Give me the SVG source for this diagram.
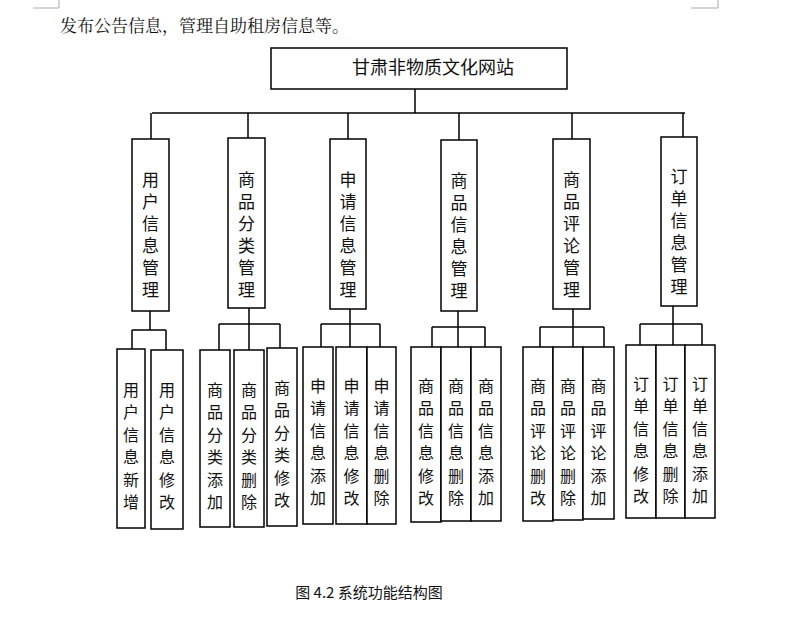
<svg xmlns="http://www.w3.org/2000/svg" width="788" height="635" viewBox="0 0 788 635">
<style>
rect{fill:#fff;stroke:#000;stroke-width:1.5}
line,path{stroke:#000;stroke-width:1.5;fill:none}
text{font-family:"Noto Sans CJK SC","Liberation Serif",serif;fill:#111;text-anchor:middle}
.m{font-size:17px}
.c{font-size:16px}
.mark{stroke:#aaa;stroke-width:1}
</style>
<rect width="788" height="635" style="fill:#fff;stroke:none"/>
<path class="mark" d="M33 8H59V0M691 8H718V0" style="stroke:#aaa;stroke-width:1"/>
<text x="60" y="32" style="font-size:17px;text-anchor:start;font-family:'Noto Serif CJK SC','Noto Sans CJK SC',serif">发布公告信息，管理自助租房信息等。</text>
<g id="connectors">
<path d="M415 89V113M152 113H685M151 113V139M248 113V138M348 113V139M459 113V140M572 113V139M683 113V137"/>
<path d="M150 311V330M132 330H166M132 330V349M166 330V350"/>
<path d="M249 308V350M219 324H280M219 324V350M280 324V348"/>
<path d="M350 309V347M321 324H380M321 324V347M380 324V347"/>
<path d="M458 311V347M432 327H485M432 327V347M485 327V347"/>
<path d="M573 309V347M540 327H604M540 327V347M604 327V347"/>
<path d="M673 306V345M640 324H702M640 324V345M702 324V345"/>
</g>
<g id="root"><rect x="271" y="48" width="296" height="41"/><text x="433" y="74" style="font-size:18px">甘肃非物质文化网站</text></g>
<g id="m1"><rect x="132" y="139" width="37" height="172"/><text class="m" x="150.5" y="186"><tspan x="150.5">用</tspan><tspan x="150.5" dy="22">户</tspan><tspan x="150.5" dy="22">信</tspan><tspan x="150.5" dy="22">息</tspan><tspan x="150.5" dy="22">管</tspan><tspan x="150.5" dy="22">理</tspan></text></g>
<g id="m2"><rect x="228" y="138" width="37" height="170"/><text class="m" x="246.5" y="186"><tspan x="246.5">商</tspan><tspan x="246.5" dy="22">品</tspan><tspan x="246.5" dy="22">分</tspan><tspan x="246.5" dy="22">类</tspan><tspan x="246.5" dy="22">管</tspan><tspan x="246.5" dy="22">理</tspan></text></g>
<g id="m3"><rect x="330" y="139" width="36" height="170"/><text class="m" x="348" y="186"><tspan x="348">申</tspan><tspan x="348" dy="22">请</tspan><tspan x="348" dy="22">信</tspan><tspan x="348" dy="22">息</tspan><tspan x="348" dy="22">管</tspan><tspan x="348" dy="22">理</tspan></text></g>
<g id="m4"><rect x="441" y="140" width="36" height="171"/><text class="m" x="459" y="187"><tspan x="459">商</tspan><tspan x="459" dy="22">品</tspan><tspan x="459" dy="22">信</tspan><tspan x="459" dy="22">息</tspan><tspan x="459" dy="22">管</tspan><tspan x="459" dy="22">理</tspan></text></g>
<g id="m5"><rect x="553" y="139" width="37" height="170"/><text class="m" x="571.5" y="186"><tspan x="571.5">商</tspan><tspan x="571.5" dy="22">品</tspan><tspan x="571.5" dy="22">评</tspan><tspan x="571.5" dy="22">论</tspan><tspan x="571.5" dy="22">管</tspan><tspan x="571.5" dy="22">理</tspan></text></g>
<g id="m6"><rect x="661" y="137" width="36" height="169"/><text class="m" x="679" y="183"><tspan x="679">订</tspan><tspan x="679" dy="22">单</tspan><tspan x="679" dy="22">信</tspan><tspan x="679" dy="22">息</tspan><tspan x="679" dy="22">管</tspan><tspan x="679" dy="22">理</tspan></text></g>
<g id="c1a"><rect x="117" y="349" width="28" height="179"/><text class="c" x="131" y="396"><tspan x="131">用</tspan><tspan x="131" dy="22.4">户</tspan><tspan x="131" dy="22.4">信</tspan><tspan x="131" dy="22.4">息</tspan><tspan x="131" dy="22.4">新</tspan><tspan x="131" dy="22.4">增</tspan></text></g>
<g id="c1b"><rect x="151" y="350" width="32" height="179"/><text class="c" x="167" y="396"><tspan x="167">用</tspan><tspan x="167" dy="22.4">户</tspan><tspan x="167" dy="22.4">信</tspan><tspan x="167" dy="22.4">息</tspan><tspan x="167" dy="22.4">修</tspan><tspan x="167" dy="22.4">改</tspan></text></g>
<g id="c2a"><rect x="200" y="350" width="30" height="177"/><text class="c" x="215" y="396"><tspan x="215">商</tspan><tspan x="215" dy="22.4">品</tspan><tspan x="215" dy="22.4">分</tspan><tspan x="215" dy="22.4">类</tspan><tspan x="215" dy="22.4">添</tspan><tspan x="215" dy="22.4">加</tspan></text></g>
<g id="c2b"><rect x="234" y="350" width="30" height="177"/><text class="c" x="249" y="396"><tspan x="249">商</tspan><tspan x="249" dy="22.4">品</tspan><tspan x="249" dy="22.4">分</tspan><tspan x="249" dy="22.4">类</tspan><tspan x="249" dy="22.4">删</tspan><tspan x="249" dy="22.4">除</tspan></text></g>
<g id="c2c"><rect x="267" y="348" width="30" height="178"/><text class="c" x="282" y="394"><tspan x="282">商</tspan><tspan x="282" dy="22.4">品</tspan><tspan x="282" dy="22.4">分</tspan><tspan x="282" dy="22.4">类</tspan><tspan x="282" dy="22.4">修</tspan><tspan x="282" dy="22.4">改</tspan></text></g>
<g id="c3a"><rect x="303" y="347" width="30" height="177"/><text class="c" x="318" y="392"><tspan x="318">申</tspan><tspan x="318" dy="22.4">请</tspan><tspan x="318" dy="22.4">信</tspan><tspan x="318" dy="22.4">息</tspan><tspan x="318" dy="22.4">添</tspan><tspan x="318" dy="22.4">加</tspan></text></g>
<g id="c3b"><rect x="336" y="347" width="31" height="177"/><text class="c" x="351.5" y="392"><tspan x="351.5">申</tspan><tspan x="351.5" dy="22.4">请</tspan><tspan x="351.5" dy="22.4">信</tspan><tspan x="351.5" dy="22.4">息</tspan><tspan x="351.5" dy="22.4">修</tspan><tspan x="351.5" dy="22.4">改</tspan></text></g>
<g id="c3c"><rect x="367" y="347" width="29" height="177"/><text class="c" x="381.5" y="392"><tspan x="381.5">申</tspan><tspan x="381.5" dy="22.4">请</tspan><tspan x="381.5" dy="22.4">信</tspan><tspan x="381.5" dy="22.4">息</tspan><tspan x="381.5" dy="22.4">删</tspan><tspan x="381.5" dy="22.4">除</tspan></text></g>
<g id="c4a"><rect x="411" y="347" width="30" height="175"/><text class="c" x="426" y="392"><tspan x="426">商</tspan><tspan x="426" dy="22.4">品</tspan><tspan x="426" dy="22.4">信</tspan><tspan x="426" dy="22.4">息</tspan><tspan x="426" dy="22.4">修</tspan><tspan x="426" dy="22.4">改</tspan></text></g>
<g id="c4b"><rect x="441" y="347" width="30" height="174"/><text class="c" x="456" y="392"><tspan x="456">商</tspan><tspan x="456" dy="22.4">品</tspan><tspan x="456" dy="22.4">信</tspan><tspan x="456" dy="22.4">息</tspan><tspan x="456" dy="22.4">删</tspan><tspan x="456" dy="22.4">除</tspan></text></g>
<g id="c4c"><rect x="471" y="347" width="30" height="174"/><text class="c" x="486" y="392"><tspan x="486">商</tspan><tspan x="486" dy="22.4">品</tspan><tspan x="486" dy="22.4">信</tspan><tspan x="486" dy="22.4">息</tspan><tspan x="486" dy="22.4">添</tspan><tspan x="486" dy="22.4">加</tspan></text></g>
<g id="c5a"><rect x="523" y="347" width="30" height="174"/><text class="c" x="538" y="392"><tspan x="538">商</tspan><tspan x="538" dy="22.4">品</tspan><tspan x="538" dy="22.4">评</tspan><tspan x="538" dy="22.4">论</tspan><tspan x="538" dy="22.4">删</tspan><tspan x="538" dy="22.4">改</tspan></text></g>
<g id="c5b"><rect x="553" y="347" width="30" height="173"/><text class="c" x="568" y="392"><tspan x="568">商</tspan><tspan x="568" dy="22.4">品</tspan><tspan x="568" dy="22.4">评</tspan><tspan x="568" dy="22.4">论</tspan><tspan x="568" dy="22.4">删</tspan><tspan x="568" dy="22.4">除</tspan></text></g>
<g id="c5c"><rect x="583" y="347" width="31" height="172"/><text class="c" x="598.5" y="392"><tspan x="598.5">商</tspan><tspan x="598.5" dy="22.4">品</tspan><tspan x="598.5" dy="22.4">评</tspan><tspan x="598.5" dy="22.4">论</tspan><tspan x="598.5" dy="22.4">添</tspan><tspan x="598.5" dy="22.4">加</tspan></text></g>
<g id="c6a"><rect x="626" y="345" width="30" height="173"/><text class="c" x="641" y="390"><tspan x="641">订</tspan><tspan x="641" dy="22.4">单</tspan><tspan x="641" dy="22.4">信</tspan><tspan x="641" dy="22.4">息</tspan><tspan x="641" dy="22.4">修</tspan><tspan x="641" dy="22.4">改</tspan></text></g>
<g id="c6b"><rect x="656" y="345" width="29" height="173"/><text class="c" x="670.5" y="390"><tspan x="670.5">订</tspan><tspan x="670.5" dy="22.4">单</tspan><tspan x="670.5" dy="22.4">信</tspan><tspan x="670.5" dy="22.4">息</tspan><tspan x="670.5" dy="22.4">删</tspan><tspan x="670.5" dy="22.4">除</tspan></text></g>
<g id="c6c"><rect x="685" y="345" width="30" height="173"/><text class="c" x="700" y="390"><tspan x="700">订</tspan><tspan x="700" dy="22.4">单</tspan><tspan x="700" dy="22.4">信</tspan><tspan x="700" dy="22.4">息</tspan><tspan x="700" dy="22.4">添</tspan><tspan x="700" dy="22.4">加</tspan></text></g>
<text x="369" y="598" style="font-size:15px">图 4.2  系统功能结构图</text>
</svg>
